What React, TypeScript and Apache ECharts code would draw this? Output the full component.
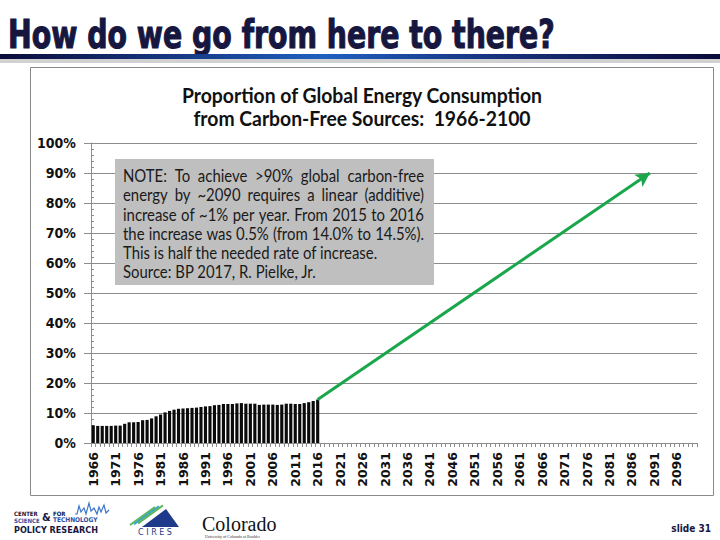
import React, { useEffect, useRef } from "react";
import * as echarts from "echarts";

// Share of global primary energy from carbon-free sources (%), 1966-2016
const firstYear = 1966;
const lastYear = 2100;
const shareValues: number[] = [
  5.9, 5.7, 5.7, 5.7, 5.7, 5.8, 5.8, 6.4, 6.9, 6.9,
  7.0, 7.6, 7.7, 8.2, 8.9, 9.5, 10.2, 10.7, 11.1, 11.4,
  11.5, 11.6, 11.7, 11.8, 12.0, 12.2, 12.3, 12.6, 12.7, 13.0,
  13.0, 13.0, 13.2, 13.3, 13.1, 13.1, 13.1, 12.7, 12.8, 12.8,
  12.8, 12.7, 12.8, 13.1, 13.1, 13.0, 13.0, 13.3, 13.6, 14.0,
  14.5,
];

// Required linear path: from today's share to >90% around 2090
const pathStart = { year: "2016", value: 14.5 };
const pathEnd = { year: "2090", value: 90 };

const yTicks = { min: 0, max: 100, interval: 10 };

const slideTitle = "How do we go from here to there?";
const chartTitle = [
  "Proportion of Global Energy Consumption",
  "from Carbon-Free Sources:  1966-2100",
];
const noteLines = [
  "NOTE: To achieve >90% global carbon-free",
  "energy by ~2090 requires a linear (additive)",
  "increase of ~1% per year. From 2015 to 2016",
  "the increase was 0.5% (from 14.0% to 14.5%).",
  "This is half the needed rate of increase.",
  "Source: BP 2017, R. Pielke, Jr.",
];
const noteJustified = [true, true, true, true, false, false];

const years: string[] = [];
for (let y = firstYear; y <= lastYear; y++) years.push(String(y));

const GRID = "#8c8c8c";
const NAVY = "#16163f";
const COND = '"DejaVu Sans Condensed", "DejaVu Sans", sans-serif';

function measure(text: string, font: string): number {
  const ctx = document.createElement("canvas").getContext("2d")!;
  ctx.font = font;
  return ctx.measureText(text).width;
}

function fitSize(text: string, weight: string, family: string, target: number): number {
  return (100 * target) / measure(text, `${weight} 100px ${family}`);
}

export default function App() {
  const ref = useRef<HTMLDivElement>(null);

  useEffect(() => {
    if (!ref.current) return;
    const chart = echarts.init(ref.current, null, { renderer: "svg" });

    const titleSize = fitSize(slideTitle, "bold", COND, 547);

    const chartTitleFamily = "Lato, 'Open Sans', sans-serif";
    const chartTitleSize = fitSize(chartTitle[0], "bold", chartTitleFamily, 361);

    const noteFamily = "Lato, 'Open Sans', sans-serif";
    const noteSize = fitSize(noteLines[4], "normal", noteFamily, 255);
    const noteFont = `normal ${noteSize}px ${noteFamily}`;

    const noteBox = { x: 115, y: 159, w: 319, h: 126 };
    const noteLeft = 123;
    const noteRight = 424;
    const noteFirstY = 175;
    const noteGap = 19.3;

    const graphics: any[] = [];

    // slide heading
    graphics.push({
      type: "text",
      x: 8,
      y: 34,
      scaleY: 1.22,
      style: {
        text: slideTitle,
        fontFamily: COND,
        fontWeight: "bold",
        fontSize: titleSize,
        fill: NAVY,
        stroke: NAVY,
        lineWidth: 0.9,
        align: "left",
        verticalAlign: "middle",
      },
    });
    // underline bar with shadow
    graphics.push({
      type: "rect",
      shape: { x: 0, y: 59, width: 720, height: 4 },
      style: { fill: "rgba(0,0,0,0.18)" },
    });
    graphics.push({
      type: "rect",
      shape: { x: 0, y: 54, width: 720, height: 5 },
      style: {
        fill: new echarts.graphic.LinearGradient(0, 0, 1, 0, [
          { offset: 0, color: "#0b0b3a" },
          { offset: 0.45, color: "#1f5fc0" },
          { offset: 0.7, color: "#17307a" },
          { offset: 1, color: "#0b0b3a" },
        ]),
      },
    });

    // chart frame
    graphics.push({
      type: "rect",
      shape: { x: 30.5, y: 67.5, width: 683, height: 428 },
      style: { fill: "none", stroke: "#8a8a8a", lineWidth: 1 },
    });

    // chart title
    chartTitle.forEach((line, i) => {
      graphics.push({
        type: "text",
        x: 362,
        y: 95 + i * 23,
        scaleY: 1.1,
        style: {
          text: line,
          fontFamily: chartTitleFamily,
          fontWeight: "bold",
          fontSize: chartTitleSize,
          fill: "#111",
          align: "center",
          verticalAlign: "middle",
        },
      });
    });

    // note box
    graphics.push({
      type: "rect",
      z: 10,
      shape: { x: noteBox.x, y: noteBox.y, width: noteBox.w, height: noteBox.h },
      style: { fill: "#bfbfbf" },
    });
    noteLines.forEach((line, i) => {
      const y = noteFirstY + i * noteGap;
      const base = {
        fontFamily: noteFamily,
        fontSize: noteSize,
        fill: "#1a1a1a",
        align: "left",
        verticalAlign: "middle",
      };
      if (noteJustified[i]) {
        const words = line.split(" ");
        const widths = words.map((w) => measure(w, noteFont));
        const total = widths.reduce((a, b) => a + b, 0);
        const gap = (noteRight - noteLeft - total) / (words.length - 1);
        let x = noteLeft;
        words.forEach((w, j) => {
          graphics.push({ type: "text", z: 11, x, y, scaleY: 1.15, style: { ...base, text: w } });
          x += widths[j] + gap;
        });
      } else {
        graphics.push({ type: "text", z: 11, x: noteLeft, y, scaleY: 1.15, style: { ...base, text: line } });
      }
    });

    // footer: CSTPR logo
    const small = { fontFamily: COND, fontWeight: "bold", fontSize: 6, verticalAlign: "middle" };
    graphics.push({ type: "text", x: 14, y: 513, style: { ...small, text: "CENTER", fill: NAVY } });
    graphics.push({ type: "text", x: 53, y: 513, style: { ...small, text: "FOR", fill: NAVY } });
    graphics.push({ type: "text", x: 14, y: 520, style: { ...small, text: "SCIENCE", fill: "#2f4f9f" } });
    graphics.push({ type: "text", x: 53, y: 520, style: { ...small, fontSize: 6.5, text: "TECHNOLOGY", fill: "#2f4f9f" } });
    graphics.push({
      type: "text",
      x: 42,
      y: 517,
      style: { text: "&", fontFamily: COND, fontWeight: "bold", fontSize: 11, fill: NAVY, verticalAlign: "middle" },
    });
    graphics.push({
      type: "text",
      x: 14,
      y: 530,
      style: { text: "POLICY RESEARCH", fontFamily: COND, fontWeight: "bold", fontSize: 9, fill: NAVY, verticalAlign: "middle" },
    });
    graphics.push({
      type: "polyline",
      shape: {
        points: [
          [75, 514], [77, 514], [79, 506], [81, 512], [84, 508], [86, 514], [89, 503],
          [91, 511], [94, 508], [97, 514], [99, 507], [101, 512], [104, 505], [106, 513], [109, 510],
        ],
      },
      style: { stroke: "#3d78c8", lineWidth: 1.2, fill: "none" },
    });

    // footer: CIRES logo
    graphics.push({
      type: "polygon",
      shape: { points: [[142, 527], [166, 509], [179, 527]] },
      style: { fill: "#1f3a8a" },
    });
    [0, 4, 8].forEach((d) => {
      graphics.push({
        type: "line",
        shape: { x1: 130 + d, y1: 525 - d * 0.2, x2: 155 + d, y2: 507 - d * 0.2 },
        style: { stroke: d === 4 ? "#3aa0c8" : "#5cb85c", lineWidth: 2 },
      });
    });
    graphics.push({
      type: "text",
      x: 155,
      y: 532,
      style: { text: "C I R E S", fontFamily: "DejaVu Sans", fontSize: 8, fill: "#1f3a8a", align: "center", verticalAlign: "middle" },
    });

    // footer: Colorado wordmark
    graphics.push({
      type: "text",
      x: 202,
      y: 524,
      style: { text: "Colorado", fontFamily: "Liberation Serif", fontSize: 20, fill: "#111", verticalAlign: "middle" },
    });
    graphics.push({
      type: "text",
      x: 205,
      y: 536,
      style: { text: "University of Colorado at Boulder", fontFamily: "Liberation Serif", fontSize: 4, fill: "#333", verticalAlign: "middle" },
    });

    // slide number
    graphics.push({
      type: "text",
      x: 711,
      y: 528,
      style: { text: "slide 31", fontFamily: COND, fontWeight: "bold", fontSize: 10, fill: NAVY, align: "right", verticalAlign: "middle" },
    });

    chart.setOption({
      animation: false,
      backgroundColor: "#ffffff",
      grid: { left: 91, top: 143, width: 606, height: 300, containLabel: false },
      xAxis: {
        type: "category",
        data: years,
        boundaryGap: true,
        axisLine: { lineStyle: { color: GRID, width: 1 } },
        axisTick: { show: true, interval: 0, length: 4, lineStyle: { color: GRID } },
        axisLabel: {
          interval: 4,
          rotate: 90,
          margin: 9,
          fontFamily: "DejaVu Sans",
          fontWeight: "bold",
          fontSize: 12.5,
          color: "#111",
        },
        splitLine: { show: false },
      },
      yAxis: [
        {
          type: "value",
          min: yTicks.min,
          max: yTicks.max,
          interval: yTicks.interval,
          axisLine: { show: true, lineStyle: { color: GRID } },
          axisTick: { show: true, length: 7, lineStyle: { color: GRID } },
          axisLabel: {
            formatter: "{value}%",
            margin: 15,
            fontFamily: COND,
            fontWeight: "bold",
            fontSize: 14,
            color: "#111",
          },
          splitLine: { show: true, lineStyle: { color: GRID, width: 1 } },
        },
        {
          type: "value",
          position: "left",
          min: yTicks.min,
          max: yTicks.max,
          interval: yTicks.interval,
          axisLine: { show: false },
          axisTick: { show: false, inside: true },
          axisLabel: { show: false },
          splitLine: { show: false },
          minorTick: { show: true, splitNumber: 5, length: 3, lineStyle: { color: GRID } },
        },
      ],
      series: [
        {
          type: "bar",
          data: shareValues,
          barCategoryGap: "30%",
          itemStyle: { color: "#0a0a0a" },
          markLine: {
            silent: true,
            symbol: ["none", "arrow"],
            symbolSize: [11, 14],
            label: { show: false },
            lineStyle: { color: "#1aa64a", width: 3, type: "solid" },
            data: [
              [
                { coord: [pathStart.year, pathStart.value] },
                { coord: [pathEnd.year, pathEnd.value] },
              ],
            ],
          },
        },
      ],
      graphic: { elements: graphics },
    });

    return () => chart.dispose();
  }, []);

  return (
    <div
      ref={ref}
      style={{ position: "fixed", left: 0, top: 0, width: 720, height: 540, background: "#fff" }}
    />
  );
}
